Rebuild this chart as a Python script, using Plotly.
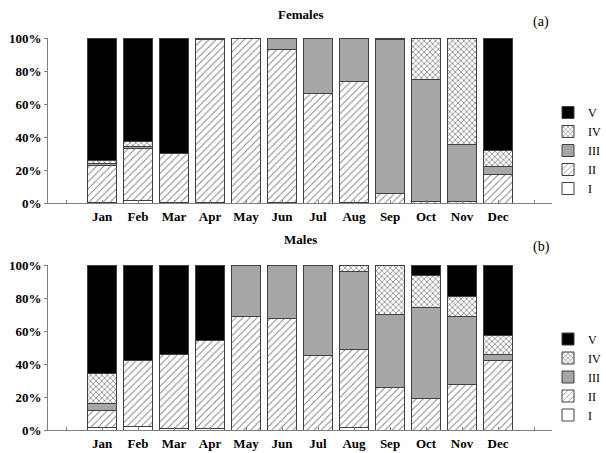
import plotly.graph_objects as go

months = ["Jan", "Feb", "Mar", "Apr", "May", "Jun", "Jul", "Aug", "Sep", "Oct", "Nov", "Dec"]
stages = ["I", "II", "III", "IV", "V"]

fem_I = [0.5, 1.5, 0.3, 0.5, 0, 0.5, 0, 0.5, 0, 0, 0, 0]
fem_II = [22, 31.5, 29.5, 98.5, 100, 92.8, 66.5, 73, 6, 0.7, 0.7, 17]
fem_III = [1.5, 1, 0, 0, 0, 6.7, 33.5, 26.5, 93, 74, 35, 5]
fem_IV = [1.5, 3, 0, 0, 0, 0, 0, 0, 1, 25.3, 64.3, 10]
fem_V = [74.5, 63, 70.2, 1, 0, 0, 0, 0, 0, 0, 0, 68]

mal_I = [1.4, 2, 1, 1, 0, 0, 0, 1.5, 0, 0, 0, 0]
mal_II = [10.7, 40, 44.5, 53.5, 68.5, 67.5, 45, 47.5, 25.5, 19, 27.5, 42]
mal_III = [3.7, 0, 0, 0, 31.5, 32.5, 55, 47, 44.5, 55, 41.5, 4]
mal_IV = [18.5, 0, 0, 0, 0, 0, 0, 4, 30, 19.5, 11.8, 11.5]
mal_V = [65.7, 58, 54.5, 45.5, 0, 0, 0, 0, 0, 6.5, 19.2, 42.5]

females = [fem_I, fem_II, fem_III, fem_IV, fem_V]
males = [mal_I, mal_II, mal_III, mal_IV, mal_V]

styles = {
    "I": dict(color="white", pattern=None),
    "II": dict(color="white", pattern=dict(shape="/", fgcolor="black", bgcolor="white", size=5, solidity=0.18)),
    "III": dict(color="#a6a6a6", pattern=None),
    "IV": dict(color="white", pattern=dict(shape="x", fgcolor="black", bgcolor="white", size=4, solidity=0.35)),
    "V": dict(color="black", pattern=None),
}

xpos = list(range(1, len(months) + 1))

fig = go.Figure()

def add_panel(data, xa, ya, legend):
    for name, vals in zip(stages, data):
        st = styles[name]
        marker = dict(color=st["color"], line=dict(color="#404040", width=1))
        if st["pattern"] is not None:
            marker["pattern"] = st["pattern"]
        fig.add_trace(go.Bar(
            x=xpos, y=[v if v else None for v in vals], name=name,
            marker=marker, xaxis=xa, yaxis=ya, legend=legend,
        ))

add_panel(females, "x", "y", "legend")
add_panel(males, "x2", "y2", "legend2")

font = "Liberation Serif"
xcommon = dict(
    range=[-0.5, 13.5], tickvals=list(range(0, 14)),
    ticktext=[""] + months + [""],
    showline=True, linecolor="#808080", linewidth=1,
    ticks="inside", ticklen=3, tickcolor="#808080",
    ticklabelstandoff=1, automargin=False,
    showgrid=False, zeroline=False,
    tickfont=dict(family=font, size=13, color="black", weight="bold"),
    domain=[48 / 606, 552 / 606], fixedrange=True,
)
ycommon = dict(
    range=[0, 100], dtick=20, ticksuffix="%",
    showline=True, linecolor="#808080", linewidth=1,
    ticks="outside", ticklen=3, tickcolor="#808080",
    automargin=False, fixedrange=True,
    showgrid=False, zeroline=False,
    tickfont=dict(family=font, size=13, color="black", weight="bold"),
)

legcommon = dict(
    font=dict(family=font, size=12, color="black"),
    traceorder="reversed", xanchor="right", yanchor="middle",
    bgcolor="rgba(0,0,0,0)", tracegroupgap=0,
)

def note(text, px, py, size):
    return dict(text=text, x=px / 606, y=1 - py / 453, xref="paper", yref="paper",
                xanchor="center", yanchor="middle", showarrow=False,
                font=dict(family=font, size=size, color="black"))

fig.update_layout(
    width=606, height=453, autosize=False,
    margin=dict(l=0, r=0, t=0, b=0, pad=0),
    paper_bgcolor="white", plot_bgcolor="white",
    barmode="stack", bargap=0.2,
    xaxis=dict(**xcommon, anchor="y"),
    xaxis2=dict(**xcommon, anchor="y2"),
    yaxis=dict(**ycommon, domain=[1 - 203 / 453, 1 - 38 / 453], anchor="x"),
    yaxis2=dict(**ycommon, domain=[1 - 430 / 453, 1 - 265 / 453], anchor="x2"),
    legend=dict(**legcommon, x=1, y=1 - 150.5 / 453),
    legend2=dict(**legcommon, x=1, y=1 - 377 / 453),
    annotations=[
        note("<b>Females</b>", 300, 15, 13),
        note("<b>Males</b>", 300, 239, 13),
        note("(a)", 541, 22, 14),
        note("(b)", 541, 247, 14),
    ],
)

fig.write_html("out.html", config={"displayModeBar": False},
               post_script="document.body.style.margin='0px';")
